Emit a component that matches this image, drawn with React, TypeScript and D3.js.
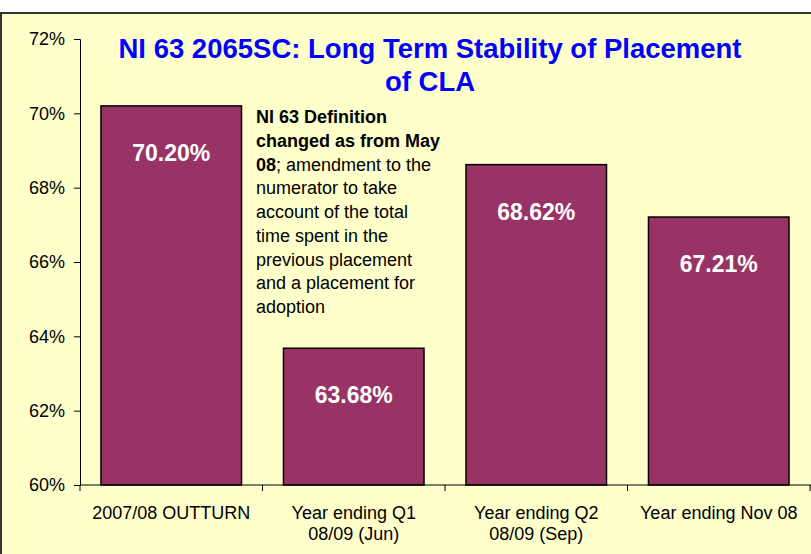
import React, { useEffect, useRef } from 'react';
import * as d3 from 'd3';

// Chart data
const categories = [
  '2007/08 OUTTURN',
  'Year ending Q1\n08/09 (Jun)',
  'Year ending Q2\n08/09 (Sep)',
  'Year ending Nov 08',
];
const values = [70.2, 63.68, 68.62, 67.21];
const yTicks = [60, 62, 64, 66, 68, 70, 72];
const titleLines = ['NI 63 2065SC: Long Term Stability of Placement', 'of CLA'];
const noteBold = ['NI 63 Definition', 'changed as from May', '08'];
const noteLines = [
  '; amendment to the',
  'numerator to take',
  'account of the total',
  'time spent in the',
  'previous placement',
  'and a placement for',
  'adoption',
];

const App = () => {
  const svgRef = useRef<SVGSVGElement | null>(null);

  useEffect(() => {
    const width = 811;
    const height = 554;
    const margin = { top: 39, right: 1, bottom: 69, left: 80 };
    const font = 'Arial, "Liberation Sans", sans-serif';

    const svg = d3.select(svgRef.current)
      .attr('width', width)
      .attr('height', height);
    svg.selectAll('*').remove();

    // background + frame (only top and left edges are visible in the crop)
    svg.append('rect')
      .attr('x', 0).attr('y', 13)
      .attr('width', width).attr('height', height - 13)
      .attr('fill', '#FFFFCC');
    svg.append('path')
      .attr('d', `M1,${height} L1,13 L${width},13`)
      .attr('fill', 'none')
      .attr('stroke', '#333')
      .attr('stroke-width', 2);

    const x = d3.scaleBand()
      .domain(categories)
      .range([margin.left, width - margin.right])
      .paddingInner(0.23)
      .paddingOuter(0.115);

    const y = d3.scaleLinear()
      .domain([60, 72])
      .range([height - margin.bottom, margin.top]);

    const g = svg.append('g');

    // Bars
    g.selectAll('rect.bar')
      .data(values)
      .enter()
      .append('rect')
      .attr('class', 'bar')
      .attr('x', (d, i) => x(categories[i]) as number)
      .attr('y', d => y(d))
      .attr('width', x.bandwidth())
      .attr('height', d => y(60) - y(d))
      .attr('fill', '#993366')
      .attr('stroke', '#000')
      .attr('stroke-width', 1.5);

    // Value labels
    g.selectAll('text.val')
      .data(values)
      .enter()
      .append('text')
      .attr('class', 'val')
      .attr('x', (d, i) => (x(categories[i]) as number) + x.bandwidth() / 2)
      .attr('y', d => y(d) + 55)
      .attr('text-anchor', 'middle')
      .attr('fill', '#fff')
      .attr('font-family', font)
      .attr('font-weight', 'bold')
      .attr('font-size', 23)
      .text(d => d.toFixed(2) + '%');

    // Y axis
    const yAxis = svg.append('g')
      .attr('transform', `translate(${margin.left},0)`)
      .call(d3.axisLeft(y).tickValues(yTicks).tickSize(6).tickPadding(9).tickFormat(d => `${d}%`));
    yAxis.selectAll('text')
      .attr('font-family', font)
      .attr('font-size', 18)
      .attr('fill', '#000');
    yAxis.select('.domain').attr('stroke', '#000');

    // X axis with ticks at category boundaries
    const base = y(60);
    const step = x.step();
    const bounds = d3.range(categories.length + 1).map(i => margin.left + i * step);
    svg.append('line')
      .attr('x1', margin.left).attr('x2', width)
      .attr('y1', base).attr('y2', base)
      .attr('stroke', '#000');
    svg.selectAll('line.xtick')
      .data(bounds)
      .enter()
      .append('line')
      .attr('class', 'xtick')
      .attr('x1', d => d).attr('x2', d => d)
      .attr('y1', base).attr('y2', base + 6)
      .attr('stroke', '#000');

    const xl = svg.selectAll('text.cat')
      .data(categories)
      .enter()
      .append('text')
      .attr('class', 'cat')
      .attr('x', d => (x(d) as number) + x.bandwidth() / 2)
      .attr('y', base + 34)
      .attr('text-anchor', 'middle')
      .attr('font-family', font)
      .attr('font-size', 18)
      .attr('fill', '#000');
    xl.selectAll('tspan')
      .data(d => d.split('\n'))
      .enter()
      .append('tspan')
      .attr('x', function () { return (this.parentNode as SVGTextElement).getAttribute('x'); })
      .attr('dy', (d, i) => (i === 0 ? 0 : 21))
      .text(d => d);

    // Title
    svg.append('text')
      .attr('x', 430)
      .attr('y', 58)
      .attr('text-anchor', 'middle')
      .attr('font-family', font)
      .attr('font-weight', 'bold')
      .attr('font-size', 27.5)
      .attr('fill', '#0000FF')
      .selectAll('tspan')
      .data(titleLines)
      .enter()
      .append('tspan')
      .attr('x', 430)
      .attr('dy', (d, i) => (i === 0 ? 0 : 33))
      .text(d => d);

    // Annotation
    const noteX = 256;
    const lh = 23.75;
    const note = svg.append('text')
      .attr('x', noteX)
      .attr('y', 123)
      .attr('font-family', font)
      .attr('font-size', 18)
      .attr('fill', '#000');
    noteBold.forEach((t, i) => {
      note.append('tspan')
        .attr('x', noteX)
        .attr('dy', i === 0 ? 0 : lh)
        .attr('font-weight', 'bold')
        .text(t);
    });
    noteLines.forEach((t, i) => {
      const ts = note.append('tspan').text(t);
      if (i > 0) ts.attr('x', noteX).attr('dy', lh);
    });
  }, []);

  return (
    <svg ref={svgRef} style={{ position: 'absolute', left: 0, top: 0 }}></svg>
  );
};

export default App;
